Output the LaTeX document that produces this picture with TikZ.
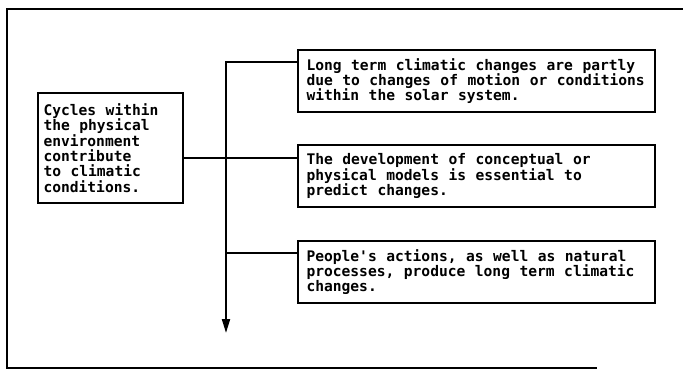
\documentclass[tikz,border=0pt]{standalone}
\usepackage{fontspec}
\usepackage{tikz}
\usetikzlibrary{
  arrows.meta,
  positioning,
  calc
}
\newfontfamily\boxfont{DejaVu Sans Mono}

\begin{document}
\begin{tikzpicture}[
    x=1pt, y=1pt,
    node distance=31pt,
    % Styles
    factbox/.style={
        rectangle, draw=black, line width=2pt,
        fill=white, text=black,
        minimum width=357pt, minimum height=62pt,
        text width=340pt, inner sep=0pt,
        font=\boxfont\bfseries\fontsize{14.6pt}{15.4pt}\selectfont,
        align=left,
        execute at begin node={\spaceskip=9.5pt\relax}
    },
    causebox/.style={
        factbox,
        minimum width=145pt, minimum height=110pt,
        text width=134pt
    },
    link/.style={-, line width=2pt, color=black},
    frame/.style={line width=2pt, color=black}
]

\useasboundingbox (0,0) rectangle (683,-375);

% ── OUTER FRAME ──
\draw[frame] (683,-9) -- (7,-9) -- (7,-368) -- (597,-368);

% ── CAUSE ──
\node[causebox] (cycles) at (110.5,-148) {
    Cycles within\\
    the physical\\
    environment\\
    contribute\\
    to climatic\\
    conditions.
};

% ── CONSEQUENCES ──
\node[factbox] (longterm) at (476.5,-81) {
    Long term climatic changes are partly\\
    due to changes of motion or conditions\\
    within the solar system.
};

\node[factbox, below=31pt of longterm] (models) {
    The development of conceptual or\\
    physical models is essential to\\
    predict changes.
};

\node[factbox, below=32pt of models] (people) {
    People's actions, as well as natural\\
    processes, produce long term climatic\\
    changes.
};

% ── CONNECTORS ──
\coordinate (longin) at ([yshift=-13pt]longterm.north west);
\coordinate (modelin) at ([yshift=-14pt]models.north west);
\coordinate (peoplein) at ([yshift=-13pt]people.north west);
\coordinate (spine) at (226,-333);

\draw[link, -{Triangle[length=14pt, width=8pt]}] (longin) -| (spine);
\draw[link] (cycles.east |- modelin) -- (modelin);
\draw[link] (spine |- peoplein) -- (peoplein);

\end{tikzpicture}
\end{document}
